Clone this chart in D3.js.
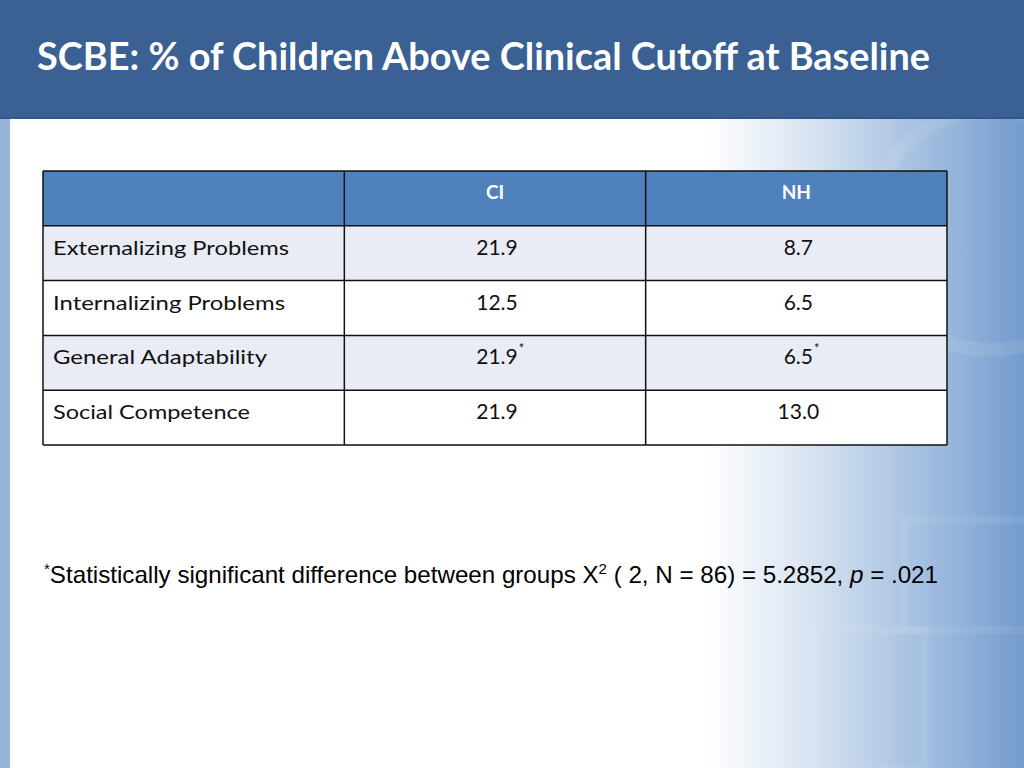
<!DOCTYPE html>
<html>
<head>
<meta charset="utf-8">
<script src="https://cdn.jsdelivr.net/npm/d3@7"></script>
<style>
html,body{margin:0;padding:0;background:#fff;}
svg{display:block;}
</style>
</head>
<body>
<script>
// ---- data ----
const titleText = "SCBE: % of Children Above Clinical Cutoff at Baseline";
const columns = ["CI", "NH"];
const categories = ["Externalizing Problems", "Internalizing Problems", "General Adaptability", "Social Competence"];
const ciValues = [21.9, 12.5, 21.9, 21.9];
const nhValues = [8.7, 6.5, 6.5, 13.0];
const significant = [false, false, true, false];
const footParts = [
  {t: "*", sup: true},
  {t: "Statistically significant difference between groups X"},
  {t: "2", sup: true},
  {t: " ( 2, N = 86) = 5.2852, "},
  {t: "p", italic: true},
  {t: " = .021"}
];

const W = 1024, H = 768;
const svg = d3.select("body").append("svg").attr("width", W).attr("height", H);
const defs = svg.append("defs");

// background gradient (right side)
const g1 = defs.append("linearGradient").attr("id", "bgGrad").attr("x1", 0).attr("x2", 1).attr("y1", 0).attr("y2", 0);
[[0, "#ffffff"], [0.69, "#ffffff"], [0.78, "#dde7f3"], [0.86, "#b7cce6"], [0.94, "#91b2da"], [1, "#739bcd"]]
  .forEach(([o, c]) => g1.append("stop").attr("offset", o).attr("stop-color", c));
svg.append("rect").attr("width", W).attr("height", H).attr("fill", "url(#bgGrad)");

// faint decorative shapes
svg.append("circle").attr("cx", 990).attr("cy", 230).attr("r", 120)
  .attr("fill", "none").attr("stroke", "#ffffff").attr("stroke-opacity", 0.09).attr("stroke-width", 14);
svg.append("rect").attr("x", 815).attr("y", 630).attr("width", 110).attr("height", 140)
  .attr("fill", "none").attr("stroke", "#ffffff").attr("stroke-opacity", 0.08).attr("stroke-width", 8);
svg.append("rect").attr("x", 905).attr("y", 520).attr("width", 140).attr("height", 110)
  .attr("fill", "none").attr("stroke", "#ffffff").attr("stroke-opacity", 0.07).attr("stroke-width", 8);

// left strip
svg.append("rect").attr("x", 0).attr("y", 119).attr("width", 10).attr("height", H - 119).attr("fill", "#98b5d9");

// title bar
svg.append("rect").attr("x", 0).attr("y", 0).attr("width", W).attr("height", 119).attr("fill", "#3a6094");
svg.append("rect").attr("x", 0).attr("y", 117).attr("width", W).attr("height", 2).attr("fill", "#34578a");
svg.append("text").attr("x", 37).attr("y", 70)
  .attr("font-family", "Lato, 'Open Sans', sans-serif").attr("font-weight", 700).attr("font-size", 38)
  .attr("fill", "#ffffff").attr("textLength", 893).attr("lengthAdjust", "spacingAndGlyphs")
  .text(titleText);

// ---- table ----
const rowKeys = ["header", ...categories];
const y = d3.scaleBand().domain(rowKeys).range([171, 445]).padding(0);
const x = d3.scaleBand().domain(["label", ...columns]).range([43, 947]).padding(0);
const fmt = d3.format(".1f");

const table = svg.append("g");
table.selectAll("rect.row").data(rowKeys).join("rect")
  .attr("class", "row")
  .attr("x", x.range()[0]).attr("width", x.range()[1] - x.range()[0])
  .attr("y", d => y(d)).attr("height", y.bandwidth())
  .attr("fill", (d, i) => i === 0 ? "#4f81bd" : (i % 2 === 1 ? "#e9ecf5" : "#ffffff"));

table.selectAll("text.head").data(columns).join("text")
  .attr("class", "head")
  .attr("x", d => x(d) + x.bandwidth() / 2)
  .attr("y", y("header") + 28)
  .attr("text-anchor", "middle")
  .attr("font-family", "Lato, 'Open Sans', sans-serif").attr("font-weight", 700).attr("font-size", 19)
  .attr("fill", "#ffffff").text(d => d);

const labelWidths = [236, 232, 214, 197];
table.selectAll("text.lab").data(categories).join("text")
  .attr("class", "lab")
  .attr("x", x("label") + 10)
  .attr("y", d => y(d) + 29)
  .attr("font-family", "Lato, 'Open Sans', sans-serif").attr("font-size", 20)
  .attr("fill", "#111111")
  .attr("textLength", (d, i) => labelWidths[i]).attr("lengthAdjust", "spacingAndGlyphs")
  .text(d => d);

const cellData = [];
categories.forEach((c, i) => {
  cellData.push({row: c, col: "CI", v: ciValues[i], sig: significant[i]});
  cellData.push({row: c, col: "NH", v: nhValues[i], sig: significant[i]});
});
const valText = table.selectAll("text.val").data(cellData).join("text")
  .attr("class", "val")
  .attr("x", d => x(d.col) + x.bandwidth() / 2 + 2)
  .attr("y", d => y(d.row) + 29)
  .attr("text-anchor", "middle")
  .attr("font-family", "Lato, 'Open Sans', sans-serif").attr("font-size", 21)
  .attr("fill", "#111111")
  .text(d => fmt(d.v));
valText.filter(d => d.sig).each(function(d) {
  const w = this.getComputedTextLength();
  table.append("text")
    .attr("x", x(d.col) + x.bandwidth() / 2 + 2 + w / 2 + 1)
    .attr("y", y(d.row) + 18)
    .attr("font-family", "Lato, 'Open Sans', sans-serif").attr("font-size", 13)
    .attr("fill", "#111111").text("*");
});

const lineG = table.append("g").attr("stroke", "#111111").attr("stroke-width", 1.5);
const hLines = rowKeys.map(d => y(d)).concat([y.range()[1]]);
lineG.selectAll("line.h").data(hLines).join("line").attr("class", "h")
  .attr("x1", x.range()[0]).attr("x2", x.range()[1]).attr("y1", d => d).attr("y2", d => d);
const vLines = ["label", ...columns].map(d => x(d)).concat([x.range()[1]]);
lineG.selectAll("line.v").data(vLines).join("line").attr("class", "v")
  .attr("x1", d => d).attr("x2", d => d).attr("y1", y.range()[0]).attr("y2", y.range()[1]);

// ---- footnote ----
const foot = svg.append("text").attr("x", 44).attr("y", 583)
  .attr("font-family", "'Liberation Sans', Arial, sans-serif").attr("font-size", 24)
  .attr("fill", "#000000")
  .attr("textLength", 894).attr("lengthAdjust", "spacingAndGlyphs");
let prevSup = false;
footParts.forEach(p => {
  const ts = foot.append("tspan").text(p.t);
  let dy = 0;
  if (p.sup) { ts.attr("font-size", 15); dy = -9; }
  if (prevSup && !p.sup) dy = 9;
  if (dy) ts.attr("dy", dy);
  if (p.italic) ts.attr("font-style", "italic");
  prevSup = !!p.sup;
});
</script>
</body>
</html>
